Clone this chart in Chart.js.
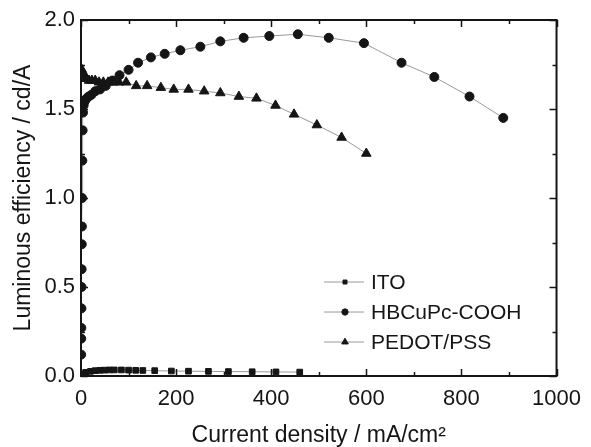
<!DOCTYPE html>
<html>
<head>
<meta charset="utf-8">
<script src="https://cdn.jsdelivr.net/npm/chart.js@4/dist/chart.umd.min.js"></script>
<style>
  html, body { margin: 0; padding: 0; background: #fff; }
  #wrap { width: 591px; height: 447px; }
</style>
</head>
<body>
<div id="wrap"><canvas id="effChart"></canvas></div>
<script>
// values
const itoX = [2, 5, 10, 20, 30, 40, 50, 60, 70, 85, 100, 115, 130, 155, 190, 226, 268, 310, 360, 410, 460];
const itoY = [0.005, 0.012, 0.02, 0.026, 0.03, 0.032, 0.033, 0.034, 0.034, 0.034, 0.033, 0.032, 0.031, 0.03, 0.028, 0.027, 0.026, 0.025, 0.024, 0.023, 0.022];

const hbX = [0.3, 0.5, 0.7, 0.9, 1.1, 1.3, 1.6, 1.9, 2.3, 2.8, 3.4, 4.2, 5.5, 7, 9, 12, 16, 22, 30, 40, 52,
  66, 81, 100, 120, 147, 176, 209, 251, 293, 342, 396, 456, 521, 595, 674, 743, 817, 888];
const hbY = [0.12, 0.21, 0.27, 0.38, 0.5, 0.6, 0.74, 0.84, 1.0, 1.21, 1.38, 1.48, 1.52, 1.54, 1.55, 1.56, 1.57, 1.58, 1.6, 1.61, 1.63,
  1.66, 1.69, 1.72, 1.76, 1.79, 1.81, 1.83, 1.85, 1.88, 1.9, 1.91, 1.92, 1.9, 1.87, 1.76, 1.68, 1.57, 1.45];

const pedotX = [2, 5, 8, 12, 17, 23, 30, 38, 47, 57, 68, 80, 95, 116, 139, 168, 195, 226, 259, 293, 332, 369, 409, 448, 496, 548, 600];
const pedotY = [1.72, 1.7, 1.68, 1.67, 1.66, 1.66, 1.66, 1.65, 1.65, 1.65, 1.65, 1.65, 1.65, 1.63, 1.63, 1.62, 1.61, 1.61, 1.6, 1.59, 1.57, 1.56, 1.52, 1.47, 1.41, 1.34, 1.25];

const seriesNames = ["ITO", "HBCuPc-COOH", "PEDOT/PSS"];
const xTicks = [0, 200, 400, 600, 800, 1000];
const yTicks = [0.0, 0.5, 1.0, 1.5, 2.0];

const FONT = "'Liberation Sans', Arial, sans-serif";
const INK = "#151515";

const toPoints = (xs, ys) => xs.map((x, i) => ({ x: x, y: ys[i] }));

// inward ticks on all four sides plus the box
const framePlugin = {
  id: "frame",
  afterDatasetsDraw(chart) {
    const { ctx, chartArea: a, scales } = chart;
    ctx.save();
    ctx.strokeStyle = INK;
    ctx.lineWidth = 1.5;
    for (let v = 0; v <= 1000; v += 100) {
      const px = Math.round(scales.x.getPixelForValue(v)) + 0.5;
      const len = v % 200 === 0 ? 7 : 4;
      ctx.beginPath();
      ctx.moveTo(px, a.bottom); ctx.lineTo(px, a.bottom - len);
      ctx.moveTo(px, a.top); ctx.lineTo(px, a.top + len);
      ctx.stroke();
    }
    for (let v = 0; v <= 2.0001; v += 0.25) {
      const py = Math.round(scales.y.getPixelForValue(v)) + 0.5;
      const len = Math.abs(v * 2 - Math.round(v * 2)) < 0.01 ? 7 : 4;
      ctx.beginPath();
      ctx.moveTo(a.left, py); ctx.lineTo(a.left + len, py);
      ctx.moveTo(a.right, py); ctx.lineTo(a.right - len, py);
      ctx.stroke();
    }
    ctx.lineWidth = 2;
    ctx.strokeRect(a.left, a.top, a.right - a.left, a.bottom - a.top);
    ctx.restore();
  },
};

// legend with line + marker, sitting inside the plot
const legendPlugin = {
  id: "innerLegend",
  afterDraw(chart) {
    const { ctx, chartArea: a } = chart;
    const w = a.right - a.left, h = a.bottom - a.top;
    const x0 = a.left + 0.511 * w;
    let y = a.top + 0.736 * h;
    ctx.save();
    chart.data.datasets.forEach((ds) => {
      ctx.strokeStyle = "#999";
      ctx.lineWidth = 1;
      ctx.beginPath();
      ctx.moveTo(x0, y); ctx.lineTo(x0 + 40, y);
      ctx.stroke();
      ctx.fillStyle = INK;
      ctx.strokeStyle = INK;
      Chart.helpers.drawPoint(ctx, {
        pointStyle: ds.pointStyle,
        radius: ds.pointRadius * 0.7,
        borderWidth: 1,
        rotation: 0,
      }, x0 + 21, y);
      ctx.font = "21px " + FONT;
      ctx.textBaseline = "middle";
      ctx.fillText(ds.label, x0 + 47, y + 1);
      y += 30;
    });
    ctx.restore();
  },
};

const mkSet = (label, pts, style, r) => ({
  label: label,
  data: pts,
  showLine: true,
  borderColor: "#999",
  borderWidth: 1,
  pointStyle: style,
  pointRadius: r,
  pointBackgroundColor: INK,
  pointBorderColor: INK,
  pointBorderWidth: 1,
  tension: 0,
});

new Chart(document.getElementById("effChart"), {
  type: "scatter",
  data: {
    datasets: [
      mkSet(seriesNames[0], toPoints(itoX, itoY), "rect", 4),
      mkSet(seriesNames[1], toPoints(hbX, hbY), "circle", 4.5),
      mkSet(seriesNames[2], toPoints(pedotX, pedotY), "triangle", 5.5),
    ],
  },
  options: {
    responsive: true,
    maintainAspectRatio: false,
    animation: false,
    layout: { padding: { top: 20, right: 28, left: 0, bottom: 0 } },
    plugins: { legend: { display: false }, tooltip: { enabled: false } },
    scales: {
      x: {
        type: "linear",
        min: 0,
        max: 1000,
        afterFit: (s) => { s.height = 71; },
        afterBuildTicks: (s) => { s.ticks = xTicks.map((v) => ({ value: v })); },
        grid: { display: false, drawTicks: false },
        border: { display: false },
        ticks: {
          color: INK,
          padding: 10,
          maxRotation: 0,
          font: { family: FONT, size: 22 },
          callback: (v) => String(v),
        },
        title: {
          display: true,
          text: "Current density / mA/cm²",
          color: INK,
          font: { family: FONT, size: 23 },
          padding: { top: 0, bottom: -2 },
        },
      },
      y: {
        type: "linear",
        min: 0,
        max: 2,
        afterFit: (s) => { s.width = 81; },
        afterBuildTicks: (s) => { s.ticks = yTicks.map((v) => ({ value: v })); },
        grid: { display: false, drawTicks: false },
        border: { display: false },
        ticks: {
          color: INK,
          padding: 6,
          font: { family: FONT, size: 22 },
          callback: (v) => v.toFixed(1),
        },
        title: {
          display: true,
          text: "Luminous efficiency / cd/A",
          color: INK,
          font: { family: FONT, size: 23 },
          padding: { top: 10, bottom: 0 },
        },
      },
    },
  },
  plugins: [framePlugin, legendPlugin],
});
</script>
</body>
</html>
